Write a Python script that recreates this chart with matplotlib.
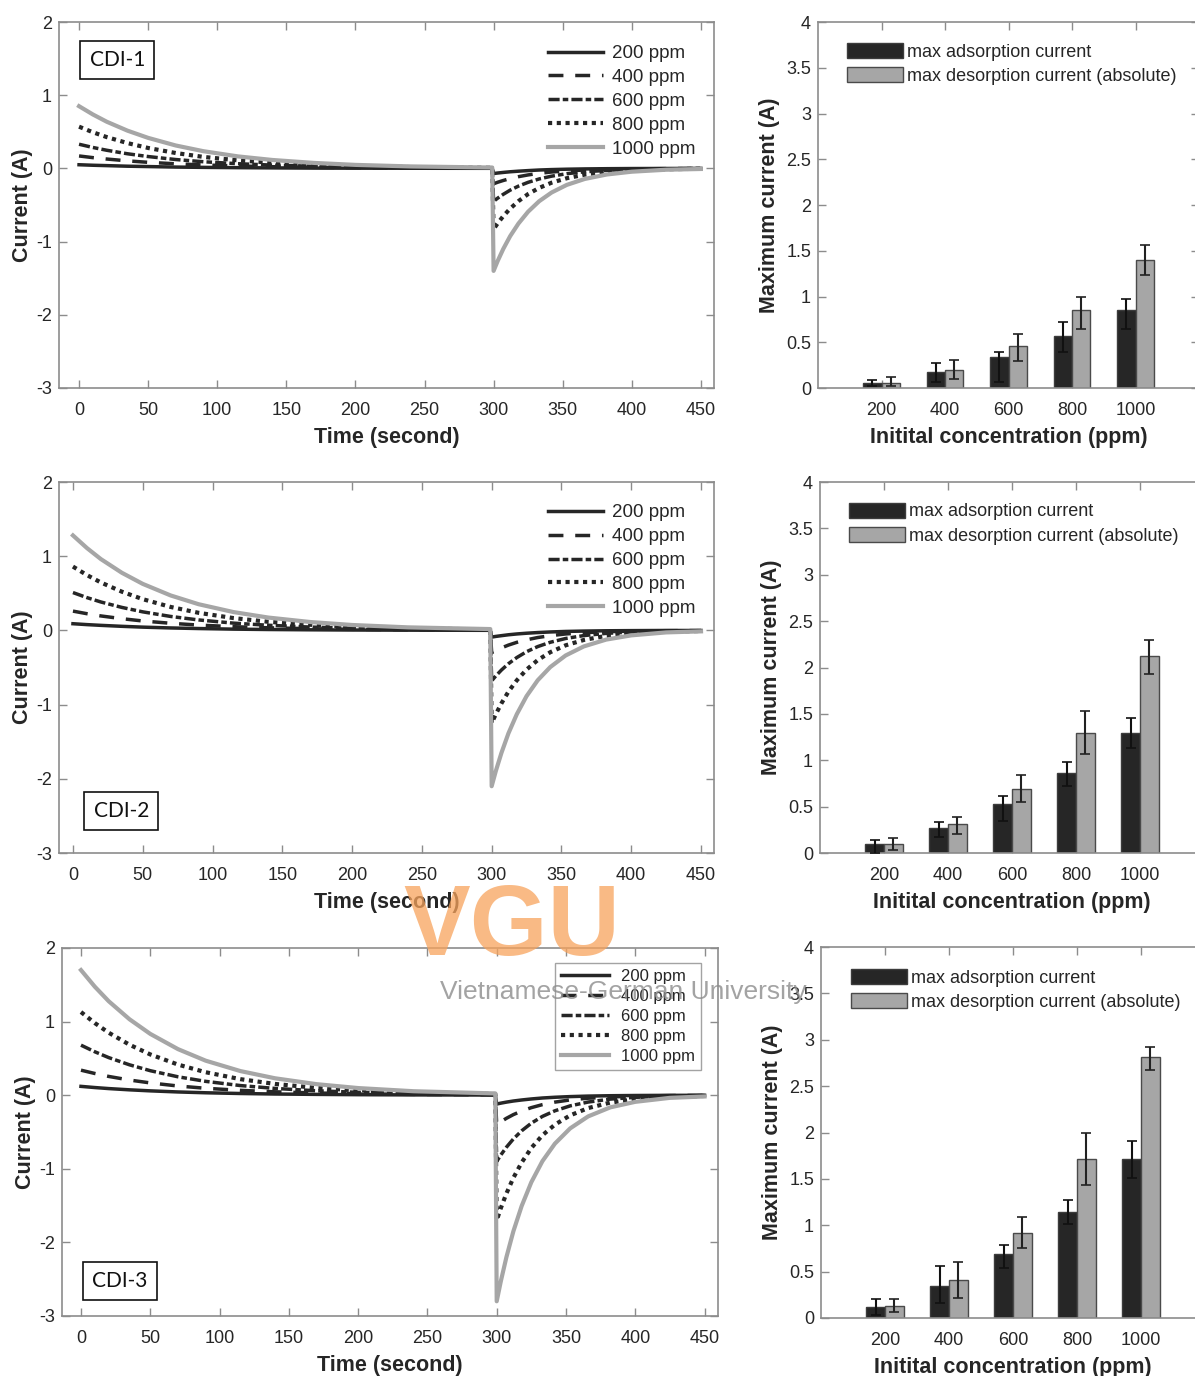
import numpy as np
import matplotlib.pyplot as plt

plt.rcParams['font.family'] = ['Liberation Sans', 'DejaVu Sans']
plt.rcParams['axes.unicode_minus'] = False

W, H = 1195, 1376  # tamaño en pixeles

# Etiquetas
conc_labels = ['200 ppm', '400 ppm', '600 ppm', '800 ppm', '1000 ppm']
conc_ticks = ['200', '400', '600', '800', '1000']

# Tiempos (s) de la etapa de adsorción y de desorción
t_ads = [0, 10, 20, 35, 50, 70, 90, 115, 140, 170, 200, 240, 299]
t_des = [300, 303, 307, 312, 318, 325, 333, 342, 353, 366, 382, 400, 425, 450]

# Corriente (A), una fila por concentración (200 ... 1000 ppm)
cdi1_ads = [
    [0.050, 0.043, 0.038, 0.030, 0.025, 0.018, 0.014, 0.010, 0.007, 0.004, 0.003, 0.002, 0.001],
    [0.170, 0.147, 0.128, 0.103, 0.083, 0.063, 0.047, 0.033, 0.023, 0.015, 0.010, 0.005, 0.002],
    [0.330, 0.286, 0.248, 0.200, 0.162, 0.121, 0.091, 0.064, 0.045, 0.029, 0.019, 0.011, 0.005],
    [0.570, 0.494, 0.428, 0.346, 0.279, 0.210, 0.157, 0.110, 0.077, 0.050, 0.032, 0.018, 0.008],
    [0.850, 0.737, 0.638, 0.516, 0.417, 0.313, 0.235, 0.164, 0.115, 0.075, 0.048, 0.027, 0.012],
]
cdi1_des = [
    [-0.070, -0.063, -0.055, -0.046, -0.038, -0.030, -0.022, -0.016, -0.011, -0.007, -0.004, -0.002, -0.001, 0.000],
    [-0.210, -0.189, -0.165, -0.139, -0.113, -0.089, -0.067, -0.049, -0.034, -0.022, -0.012, -0.007, -0.003, -0.001],
    [-0.450, -0.406, -0.354, -0.297, -0.242, -0.190, -0.144, -0.106, -0.072, -0.046, -0.027, -0.014, -0.006, -0.003],
    [-0.830, -0.749, -0.652, -0.549, -0.447, -0.350, -0.266, -0.195, -0.134, -0.085, -0.049, -0.027, -0.011, -0.005],
    [-1.400, -1.263, -1.100, -0.925, -0.753, -0.591, -0.448, -0.329, -0.225, -0.144, -0.083, -0.045, -0.018, -0.008],
]
cdi2_ads = [
    [0.090, 0.078, 0.068, 0.055, 0.044, 0.033, 0.025, 0.017, 0.012, 0.008, 0.005, 0.003, 0.001],
    [0.260, 0.225, 0.195, 0.158, 0.127, 0.096, 0.072, 0.050, 0.035, 0.023, 0.015, 0.008, 0.004],
    [0.510, 0.442, 0.383, 0.310, 0.250, 0.188, 0.141, 0.098, 0.069, 0.045, 0.029, 0.016, 0.007],
    [0.860, 0.746, 0.646, 0.522, 0.421, 0.316, 0.237, 0.166, 0.116, 0.076, 0.049, 0.028, 0.012],
    [1.280, 1.110, 0.961, 0.777, 0.627, 0.471, 0.353, 0.247, 0.173, 0.113, 0.073, 0.041, 0.018],
]
cdi2_des = [
    [-0.090, -0.081, -0.071, -0.059, -0.048, -0.038, -0.029, -0.021, -0.014, -0.009, -0.005, -0.003, -0.001, -0.001],
    [-0.300, -0.271, -0.236, -0.198, -0.161, -0.127, -0.096, -0.071, -0.048, -0.031, -0.018, -0.010, -0.004, -0.002],
    [-0.680, -0.613, -0.534, -0.449, -0.366, -0.287, -0.218, -0.160, -0.109, -0.070, -0.040, -0.022, -0.009, -0.004],
    [-1.250, -1.128, -0.983, -0.826, -0.673, -0.528, -0.400, -0.294, -0.201, -0.129, -0.074, -0.040, -0.016, -0.008],
    [-2.100, -1.894, -1.651, -1.388, -1.130, -0.886, -0.672, -0.494, -0.338, -0.216, -0.124, -0.067, -0.027, -0.013],
]
cdi3_ads = [
    [0.120, 0.104, 0.090, 0.073, 0.059, 0.044, 0.033, 0.023, 0.016, 0.011, 0.007, 0.004, 0.002],
    [0.340, 0.295, 0.255, 0.206, 0.167, 0.125, 0.094, 0.066, 0.046, 0.030, 0.019, 0.011, 0.005],
    [0.680, 0.590, 0.511, 0.413, 0.333, 0.250, 0.188, 0.131, 0.092, 0.060, 0.039, 0.022, 0.010],
    [1.130, 0.980, 0.849, 0.686, 0.554, 0.416, 0.312, 0.218, 0.153, 0.099, 0.064, 0.036, 0.016],
    [1.700, 1.474, 1.277, 1.032, 0.833, 0.626, 0.469, 0.328, 0.230, 0.150, 0.097, 0.054, 0.024],
]
cdi3_des = [
    [-0.120, -0.108, -0.094, -0.079, -0.065, -0.051, -0.038, -0.028, -0.019, -0.012, -0.007, -0.004, -0.002, -0.001],
    [-0.400, -0.361, -0.314, -0.264, -0.215, -0.169, -0.128, -0.094, -0.064, -0.041, -0.024, -0.013, -0.005, -0.002],
    [-0.900, -0.812, -0.707, -0.595, -0.484, -0.380, -0.288, -0.212, -0.145, -0.093, -0.053, -0.029, -0.012, -0.005],
    [-1.700, -1.533, -1.336, -1.124, -0.915, -0.717, -0.544, -0.400, -0.274, -0.175, -0.100, -0.054, -0.022, -0.010],
    [-2.800, -2.526, -2.201, -1.851, -1.506, -1.182, -0.896, -0.658, -0.451, -0.288, -0.165, -0.090, -0.036, -0.017],
]

# Corriente máxima (A) y extremos de las barras de error
cdi1_max_ads = [0.055, 0.17, 0.34, 0.565, 0.85]
cdi1_ads_sup = [0.09, 0.27, 0.39, 0.72, 0.97]
cdi1_ads_inf = [0.02, 0.07, 0.07, 0.39, 0.64]
cdi1_max_des = [0.06, 0.20, 0.455, 0.855, 1.40]
cdi1_des_sup = [0.125, 0.31, 0.59, 1.00, 1.56]
cdi1_des_inf = [0.02, 0.10, 0.30, 0.65, 1.23]

cdi2_max_ads = [0.097, 0.266, 0.525, 0.86, 1.29]
cdi2_ads_sup = [0.14, 0.33, 0.61, 0.98, 1.46]
cdi2_ads_inf = [0.0, 0.17, 0.35, 0.72, 1.13]
cdi2_max_des = [0.10, 0.31, 0.69, 1.29, 2.12]
cdi2_des_sup = [0.165, 0.39, 0.84, 1.53, 2.30]
cdi2_des_inf = [0.03, 0.20, 0.55, 1.07, 1.93]

cdi3_max_ads = [0.12, 0.35, 0.69, 1.14, 1.71]
cdi3_ads_sup = [0.20, 0.56, 0.79, 1.27, 1.91]
cdi3_ads_inf = [0.03, 0.165, 0.54, 1.01, 1.51]
cdi3_max_des = [0.13, 0.41, 0.92, 1.71, 2.81]
cdi3_des_sup = [0.20, 0.60, 1.09, 1.99, 2.92]
cdi3_des_inf = [0.07, 0.22, 0.76, 1.43, 2.67]

gris_eje = '#8c8c8c'
texto = '#262626'

estilos = [
    dict(color='#262626', ls='-', lw=2.5),
    dict(color='#262626', ls=(0, (4.3, 3.4)), lw=2.5),
    dict(color='#262626', ls=(0, (3.2, 0.9, 1.6, 0.9)), lw=2.5),
    dict(color='#262626', ls=(0, (1, 1.1)), lw=3),
    dict(color='#a6a6a6', ls='-', lw=3),
]

fig = plt.figure(figsize=(W / 100, H / 100), dpi=100)


def rect(l, t, w, h):
    return [l / W, 1 - (t + h) / H, w / W, h / H]


def estilo_ejes(ax):
    for s in ax.spines.values():
        s.set_color(gris_eje)
        s.set_linewidth(1.2)
    ax.tick_params(direction='in', length=6, width=1, color=gris_eje,
                   labelcolor=texto, labelsize=13, top=True, right=True)


def panel_corriente(r, xlim, ads, des, nombre, pos_nombre, ley, con_marco):
    ax = fig.add_axes(rect(*r))
    for i in range(5):
        ax.plot(t_ads + t_des, ads[i] + des[i], label=conc_labels[i], **estilos[i])
    ax.set_xlim(*xlim)
    ax.set_ylim(-3, 2)
    ax.set_xticks(np.arange(0, 451, 50))
    ax.set_yticks(np.arange(-3, 3, 1))
    estilo_ejes(ax)
    ax.tick_params(axis='x', pad=10)
    ax.tick_params(axis='y', pad=5)
    ax.set_xlabel('Time (second)', fontsize=15.5, fontweight='bold', color=texto, labelpad=5.5)
    ax.set_ylabel('Current (A)', fontsize=15.5, fontweight='bold', color=texto, labelpad=2)
    if con_marco:
        lg = ax.legend(loc='upper left', bbox_to_anchor=ley, fontsize=12, frameon=True,
                       fancybox=False, edgecolor=gris_eje, handlelength=2.9,
                       handletextpad=0.7, labelspacing=0.3, borderpad=0.35,
                       borderaxespad=0)
        lg.get_frame().set_linewidth(1)
    else:
        ax.legend(loc='upper left', bbox_to_anchor=ley, fontsize=13.5, frameon=False,
                  handlelength=2.9, handletextpad=0.5, labelspacing=0.36,
                  borderpad=0, borderaxespad=0)
    for txt in ax.get_legend().get_texts():
        txt.set_color(texto)
    ax.text(pos_nombre[0], pos_nombre[1], nombre, transform=ax.transAxes,
            family=['Lato', 'DejaVu Sans'], fontsize=15, ha='center', va='center',
            color='#111111',
            bbox=dict(boxstyle='square,pad=0.45', fc='white', ec='#111111', lw=1.2))
    return ax


def panel_barras(r, m_ads, ads_sup, ads_inf, m_des, des_sup, des_inf, ley):
    ax = fig.add_axes(rect(*r))
    x = np.arange(1, 6)
    m_ads = np.array(m_ads)
    m_des = np.array(m_des)
    ax.bar(x - 0.145, m_ads, 0.29, color='#262626', edgecolor='#3c3c3c', lw=1,
           label='max adsorption current', zorder=2)
    ax.bar(x + 0.145, m_des, 0.29, color='#a6a6a6', edgecolor='#4a4a4a', lw=1,
           label='max desorption current (absolute)', zorder=2)
    ax.errorbar(x - 0.145, m_ads, yerr=[m_ads - np.array(ads_inf), np.array(ads_sup) - m_ads],
                fmt='none', ecolor='#111111', elinewidth=1.5, capsize=3.5, capthick=1.2, zorder=3)
    ax.errorbar(x + 0.145, m_des, yerr=[m_des - np.array(des_inf), np.array(des_sup) - m_des],
                fmt='none', ecolor='#222222', elinewidth=1.5, capsize=3.5, capthick=1.2, zorder=3)
    ax.set_xlim(0, 6)
    ax.set_ylim(0, 4)
    ax.set_xticks(x)
    ax.set_xticklabels(conc_ticks)
    ax.set_yticks(np.arange(0, 4.01, 0.5))
    ax.set_yticklabels(['0', '0.5', '1', '1.5', '2', '2.5', '3', '3.5', '4'])
    estilo_ejes(ax)
    ax.tick_params(axis='x', pad=10)
    ax.tick_params(axis='y', pad=5)
    ax.set_xlabel('Initital concentration (ppm)', fontsize=15.5, fontweight='bold',
                  color=texto, labelpad=5.5)
    ax.set_ylabel('Maximum current (A)', fontsize=15.5, fontweight='bold', color=texto,
                  labelpad=4.5)
    lg = ax.legend(loc='upper left', bbox_to_anchor=ley, fontsize=13, frameon=False,
                   handlelength=3.1, handleheight=0.9, handletextpad=0.2,
                   labelspacing=0.36, borderpad=0, borderaxespad=0)
    for txt in lg.get_texts():
        txt.set_color(texto)
    return ax


panel_corriente((59, 22, 655, 366), (-14.5, 459.5), cdi1_ads, cdi1_des, 'CDI-1',
                (0.089, 0.896), (0.747, 0.937), False)
panel_corriente((59, 482, 655, 371), (-10, 459.3), cdi2_ads, cdi2_des, 'CDI-2',
                (0.095, 0.113), (0.747, 0.940), False)
panel_corriente((62, 948, 656, 368), (-13.7, 459.7), cdi3_ads, cdi3_des, 'CDI-3',
                (0.088, 0.095), (0.752, 0.959), True)

panel_barras((818, 22, 381, 366), cdi1_max_ads, cdi1_ads_sup, cdi1_ads_inf,
             cdi1_max_des, cdi1_des_sup, cdi1_des_inf, (0.076, 0.943))
panel_barras((820, 482, 384, 371), cdi2_max_ads, cdi2_ads_sup, cdi2_ads_inf,
             cdi2_max_des, cdi2_des_sup, cdi2_des_inf, (0.076, 0.944))
panel_barras((821, 947, 384, 371), cdi3_max_ads, cdi3_ads_sup, cdi3_ads_inf,
             cdi3_max_des, cdi3_des_sup, cdi3_des_inf, (0.078, 0.941))

# Marca de agua
fig.text(512 / W, 1 - 929 / H, 'VGU', fontsize=72, fontweight='bold', color='#f7a35c',
         alpha=0.75, ha='center', va='center', zorder=20)
fig.text(623 / W, 1 - 992 / H, 'Vietnamese-German University', fontsize=19,
         color='#8c8c8c', alpha=0.8, ha='center', va='center', zorder=20)

plt.savefig('out.png', dpi=100)
